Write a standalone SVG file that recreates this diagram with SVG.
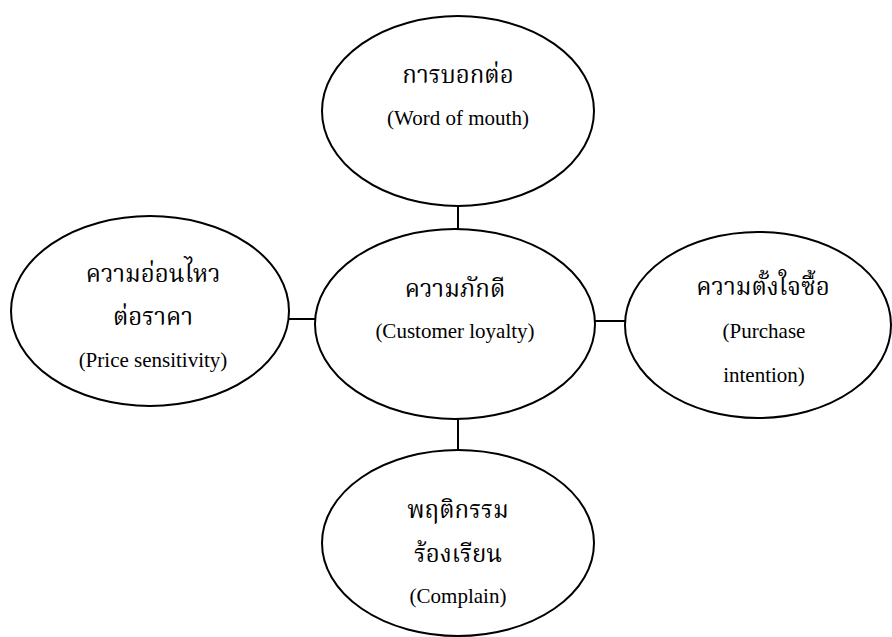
<svg xmlns="http://www.w3.org/2000/svg" width="892" height="637" viewBox="0 0 892 637">
<style>
.n{fill:#fff;stroke:#000;stroke-width:2}
.c line{stroke:#000;stroke-width:2}
.t{font-family:"Liberation Serif","Noto Serif Thai","Noto Sans Thai",serif;font-size:21px;fill:#000;text-anchor:middle}
.th{font-size:24px}
</style>
<rect width="892" height="637" fill="#fff"/>
<g id="connectors" class="c">
<line x1="458" y1="205" x2="458" y2="230"/>
<line x1="458" y1="418" x2="458" y2="452"/>
<line x1="288" y1="319" x2="316" y2="319"/>
<line x1="595" y1="321" x2="626" y2="321"/>
</g>
<g id="word-of-mouth">
<ellipse class="n" cx="458" cy="111" rx="136" ry="95"/>
<text class="t th" x="458" y="83">การบอกต่อ</text>
<text class="t" x="458" y="125">(Word of mouth)</text>
</g>
<g id="customer-loyalty">
<ellipse class="n" cx="455" cy="324" rx="140" ry="95"/>
<text class="t th" x="455" y="297">ความภักดี</text>
<text class="t" x="455" y="338">(Customer loyalty)</text>
</g>
<g id="price-sensitivity">
<ellipse class="n" cx="150" cy="311" rx="139" ry="95"/>
<text class="t th" x="153" y="282">ความอ่อนไหว</text>
<text class="t th" x="153" y="325">ต่อราคา</text>
<text class="t" x="153" y="367">(Price sensitivity)</text>
</g>
<g id="purchase-intention">
<ellipse class="n" cx="758" cy="325" rx="133" ry="93"/>
<text class="t th" x="763" y="295">ความตั้งใจซื้อ</text>
<text class="t" x="764" y="338">(Purchase</text>
<text class="t" x="764" y="382">intention)</text>
</g>
<g id="complain">
<ellipse class="n" cx="458" cy="543" rx="136" ry="93"/>
<text class="t th" x="458" y="518">พฤติกรรม</text>
<text class="t th" x="458" y="562">ร้องเรียน</text>
<text class="t" x="458" y="603">(Complain)</text>
</g>
</svg>
